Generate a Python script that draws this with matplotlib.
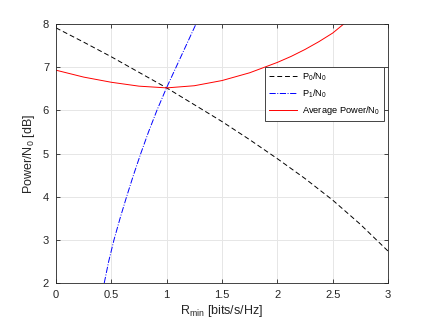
import numpy as np
import matplotlib
matplotlib.use('Agg')
import matplotlib.pyplot as plt

plt.rcParams['font.family'] = ['Liberation Sans', 'DejaVu Sans']
plt.rcParams['mathtext.default'] = 'regular'

# values
r_p0 = [0, 0.25, 0.5, 0.75, 1.0, 1.25, 1.5, 1.75, 2.0, 2.25, 2.5, 2.75, 3.0]
p0 = [7.91, 7.58, 7.24, 6.88, 6.52, 6.13, 5.74, 5.32, 4.88, 4.42, 3.92, 3.36, 2.74]

r_p1 = [0.436, 0.476, 0.524, 0.579, 0.638, 0.70, 0.766, 0.836, 0.912, 0.995, 1.085, 1.175, 1.265]
p1 = [2.0, 2.5, 3.0, 3.5, 4.0, 4.5, 5.0, 5.5, 6.0, 6.5, 7.0, 7.5, 8.0]

r_avg = [0, 0.25, 0.5, 0.75, 1.0, 1.25, 1.5, 1.75, 2.0, 2.125, 2.25, 2.375, 2.5, 2.6]
p_avg = [6.93, 6.77, 6.65, 6.56, 6.52, 6.57, 6.69, 6.87, 7.11, 7.25, 7.41, 7.59, 7.79, 8.0]

xticks = [0, 0.5, 1, 1.5, 2, 2.5, 3]
yticks = [2, 3, 4, 5, 6, 7, 8]

fig = plt.figure(figsize=(4.29, 3.22), dpi=100)
ax = fig.add_axes([0.1305, 0.121, 0.774, 0.8045])

ax.plot(r_p0, p0, color='k', linestyle='--', linewidth=0.7, dashes=(5, 3), label='P$_0$/N$_0$')
ax.plot(r_p1, p1, color='b', linestyle='-.', linewidth=0.7, label='P$_1$/N$_0$')
ax.plot(r_avg, p_avg, color='r', linestyle='-', linewidth=0.7, label='Average Power/N$_0$')

ax.set_xlim(0, 3)
ax.set_ylim(2, 8)
ax.set_xticks(xticks)
ax.set_xticklabels(['0', '0.5', '1', '1.5', '2', '2.5', '3'])
ax.set_yticks(yticks)

ax.grid(True, color='#e6e6e6', linewidth=0.7)
ax.set_axisbelow(True)
for s in ax.spines.values():
    s.set_color('#262626')
    s.set_linewidth(0.6)
ax.tick_params(direction='in', length=3, width=0.6, colors='#262626', labelsize=8,
               top=True, right=True, pad=5)

ax.set_xlabel(r'R$_{min}$ [bits/s/Hz]', fontsize=9, color='#262626', labelpad=2)
ax.set_ylabel('Power/N$_0$ [dB]', fontsize=9, color='#262626', labelpad=4)

leg = ax.legend(loc='upper right', bbox_to_anchor=(0.988, 0.834), fontsize=6.7,
                fancybox=False, framealpha=1, edgecolor='#262626', borderaxespad=0,
                handlelength=3.0, handletextpad=0.6, borderpad=0.4, labelspacing=0.45)
leg.get_frame().set_linewidth(0.6)

fig.savefig('out.png', dpi=100)
